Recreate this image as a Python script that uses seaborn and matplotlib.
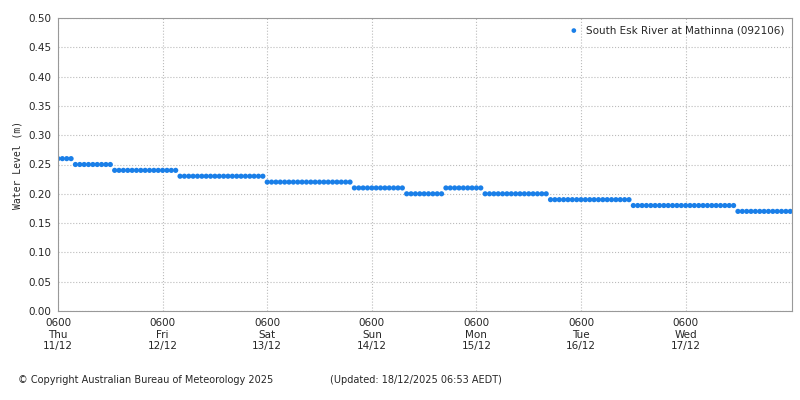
import numpy as np
import pandas as pd
import matplotlib
matplotlib.use('Agg')
import matplotlib.pyplot as plt
import seaborn as sns

# step levels (m) and how many hourly readings stayed at each level
levels = [0.26, 0.25, 0.24, 0.23, 0.22, 0.21, 0.20, 0.21, 0.20, 0.19, 0.18, 0.17]
hours = [4, 9, 15, 20, 20, 12, 9, 9, 15, 19, 24, 13]
tick_labels = ['0600\nThu\n11/12', '0600\nFri\n12/12', '0600\nSat\n13/12', '0600\nSun\n14/12',
               '0600\nMon\n15/12', '0600\nTue\n16/12', '0600\nWed\n17/12']

start = pd.Timestamp('2025-12-11 06:00')
df = pd.DataFrame({
    'time': pd.date_range(start, periods=sum(hours), freq='h'),
    'level': np.repeat(levels, hours),
})

sns.set_style('white')
plt.rcParams['font.family'] = ['DejaVu Sans']
fig = plt.figure(figsize=(8, 4), dpi=100)
ax = fig.add_axes([58 / 800, 1 - 311 / 400, (792 - 58) / 800, (311 - 18) / 400])

sns.scatterplot(data=df, x='time', y='level', ax=ax, color='#1a7fe8', s=14,
                edgecolor='none', label='South Esk River at Mathinna (092106)')

ticks = pd.date_range(start, periods=7, freq='D')
ax.set_xticks(ticks)
ax.set_xticklabels(tick_labels, fontsize=7.5)
ax.set_xlim(start, start + pd.Timedelta(hours=168.4))
ax.set_ylim(0, 0.5)
ax.set_yticks(np.arange(0, 0.501, 0.05))
ax.set_yticklabels([f'{v:.2f}' for v in np.arange(0, 0.501, 0.05)], fontsize=7.5)
ax.tick_params(length=3, pad=2)
ax.set_xlabel('')
ax.set_ylabel('Water Level (m)', fontsize=7, family='DejaVu Sans Mono')
ax.grid(True, color='#bbbbbb', linestyle=':', linewidth=0.8)
for s in ax.spines.values():
    s.set_color('#999999')
ax.legend(loc='upper right', frameon=False, fontsize=7.5, handletextpad=0.2,
          markerscale=0.9, borderaxespad=0.3)

fig.text(18 / 800, 1 - 380 / 400, '© Copyright Australian Bureau of Meteorology 2025', fontsize=7, va='center')
fig.text(330 / 800, 1 - 380 / 400, '(Updated: 18/12/2025 06:53 AEDT)', fontsize=7, va='center')

fig.savefig('out.png', dpi=100)
